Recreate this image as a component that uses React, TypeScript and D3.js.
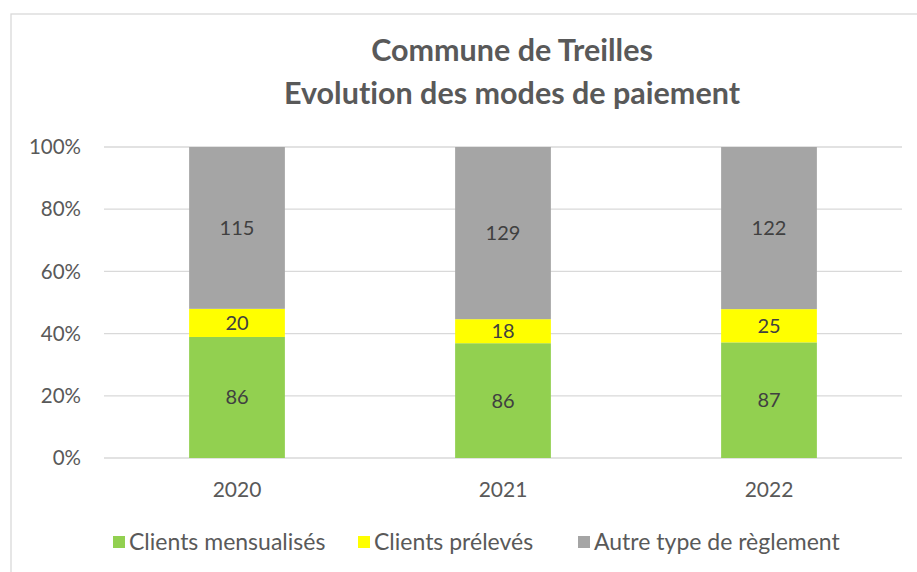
import React from "react";
import * as d3 from "d3";

const years = ["2020", "2021", "2022"];
const seriesNames = ["Clients mensualisés", "Clients prélevés", "Autre type de règlement"];
const mensualises = [86, 86, 87];
const preleves = [20, 18, 25];
const autres = [115, 129, 122];
const yTicks = [0, 0.2, 0.4, 0.6, 0.8, 1];
const titleLines = ["Commune de Treilles", "Evolution des modes de paiement"];

const colors = ["#92D050", "#FFFF00", "#A5A5A5"];
const FONT = "Lato, 'Open Sans', sans-serif";

export default function App() {
  const W = 917, H = 572;
  const plot = { left: 104, right: 902, top: 147, bottom: 458 };

  const x = d3.scaleBand<string>()
    .domain(years)
    .range([plot.left, plot.right])
    .paddingInner(0.64)
    .paddingOuter(0.32);
  const y = d3.scaleLinear().domain([0, 1]).range([plot.bottom, plot.top]);

  const rows = years.map((yr, i) => ({
    year: yr,
    s0: mensualises[i],
    s1: preleves[i],
    s2: autres[i],
  }));
  const keys = ["s0", "s1", "s2"];
  const stacked = d3.stack<any>().keys(keys).offset(d3.stackOffsetExpand)(rows);
  const fmt = d3.format(".0%");

  const legendX = [113, 358, 578];

  return (
    <svg width={W} height={H} style={{ position: "absolute", left: 0, top: 0, background: "#fff", fontVariantLigatures: "none" }} fontFamily={FONT}>
      <rect x={0} y={0} width={W} height={H} fill="#fff" />
      <rect x={11} y={14} width={1000} height={600} fill="#fff" stroke="#D9D9D9" strokeWidth={1.3} />
      {titleLines.map((t, i) => (
        <text key={t} x={512} y={61 + i * 43} textAnchor="middle" fontSize={30.5} fontWeight={700} fill="#595959">{t}</text>
      ))}
      {yTicks.map((t) => (
        <g key={t}>
          <line x1={plot.left} x2={plot.right} y1={y(t)} y2={y(t)} stroke="#D9D9D9" strokeWidth={1.3} />
          <text x={81} y={y(t)} dy="0.35em" textAnchor="end" fontSize={20.5} fill="#595959">{fmt(t)}</text>
        </g>
      ))}
      {stacked.map((layer, si) => (
        <g key={layer.key}>
          {layer.map((d, i) => {
            const x0 = x(years[i])!;
            const y0 = y(d[1]);
            const h = y(d[0]) - y(d[1]);
            const v = (d.data as any)[layer.key];
            return (
              <g key={i}>
                <rect x={x0} y={y0} width={x.bandwidth()} height={h} fill={colors[si]} />
                <text x={x0 + x.bandwidth() / 2} y={y0 + h / 2} dy="0.35em" textAnchor="middle" fontSize={20} fill="#404040">{v}</text>
              </g>
            );
          })}
        </g>
      ))}
      {years.map((yr) => (
        <text key={yr} x={x(yr)! + x.bandwidth() / 2} y={497} textAnchor="middle" fontSize={21} fill="#595959">{yr}</text>
      ))}
      {seriesNames.map((n, i) => (
        <g key={n} transform={`translate(${legendX[i]},0)`}>
          <rect x={0} y={536} width={12} height={12} fill={colors[i]} />
          <text x={16} y={550} fontSize={23} fill="#595959">{n}</text>
        </g>
      ))}
    </svg>
  );
}
